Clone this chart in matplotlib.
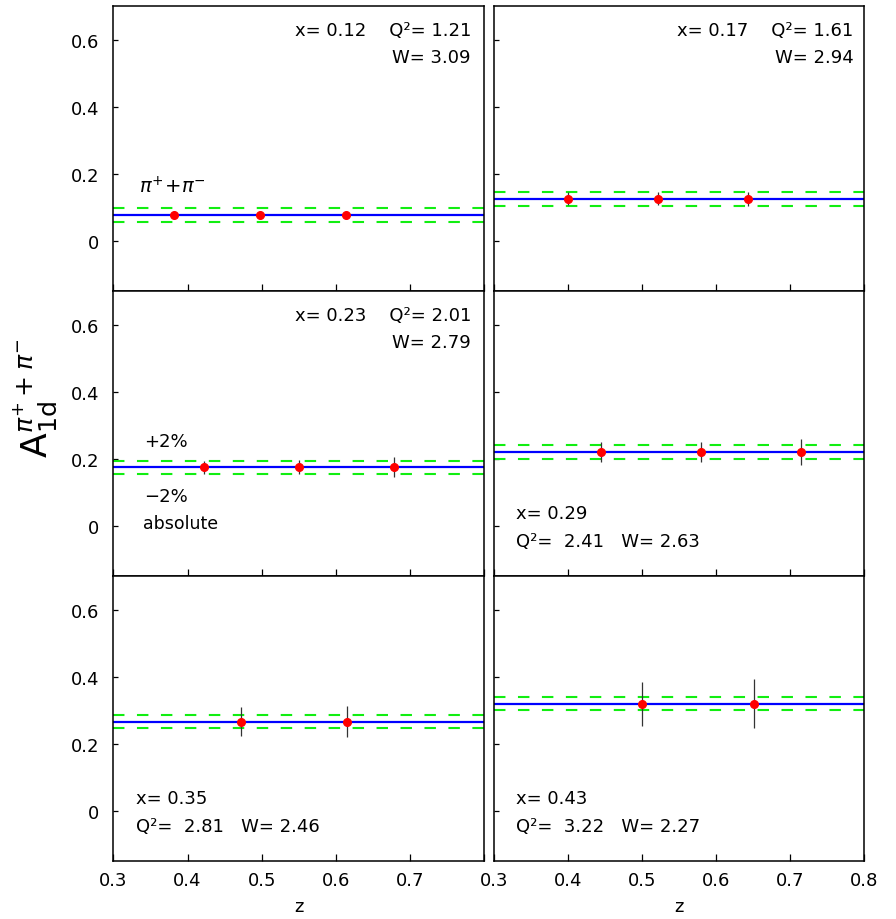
import matplotlib
matplotlib.use("Agg")
import matplotlib.pyplot as plt

plt.rcParams["font.family"] = ["DejaVu Sans"]
plt.rcParams["mathtext.fontset"] = "dejavusans"

# ── data (one entry per panel, reading order) ────────────────────────────────
X_BJ  = ["0.12", "0.17", "0.23", "0.29", "0.35", "0.43"]
Q2    = ["1.21", "1.61", "2.01", "2.41", "2.81", "3.22"]
W     = ["3.09", "2.94", "2.79", "2.63", "2.46", "2.27"]
Z_PTS = [
    [0.382, 0.498, 0.614],
    [0.400, 0.522, 0.643],
    [0.422, 0.550, 0.678],
    [0.445, 0.580, 0.715],
    [0.472, 0.615],
    [0.500, 0.652],
]
A_VAL = [0.077, 0.125, 0.174, 0.220, 0.266, 0.319]
A_ERR = [
    [0.006, 0.006, 0.008],
    [0.019, 0.019, 0.021],
    [0.020, 0.021, 0.030],
    [0.031, 0.031, 0.039],
    [0.043, 0.046],
    [0.065, 0.073],
]
BAND = 0.02   # +-2% absolute
XTICKS = [0.3, 0.4, 0.5, 0.6, 0.7, 0.8]
YTICKS = [0, 0.2, 0.4, 0.6]

# ── layout (figure pixels -> fractions) ──────────────────────────────────────
W_PX, H_PX = 896, 920
COL_X = [113.3, 494.0]
COL_W = [371.0, 370.0]
ROW_TOP = [7.0, 292.0, 577.0]
ROW_H = 285.0
FS = 13

fig = plt.figure(figsize=(W_PX / 100, H_PX / 100), dpi=100)

axes = []
for i in range(6):
    r, c = divmod(i, 2)
    rect = [COL_X[c] / W_PX, 1 - (ROW_TOP[r] + ROW_H) / H_PX,
            COL_W[c] / W_PX, ROW_H / H_PX]
    ax = fig.add_axes(rect)
    axes.append(ax)

    z = Z_PTS[i]
    a = A_VAL[i]
    ax.axhline(a, color="#0000ff", lw=1.6, zorder=2)
    for off in (BAND, -BAND):
        ax.axhline(a + off, color="#11ee11", lw=1.5, dashes=(5.5, 6), zorder=2)
    ax.errorbar(z, [a] * len(z), yerr=A_ERR[i], fmt="o", color="red",
                ms=5.5, mec="red", ecolor="#333333", elinewidth=0.9,
                capsize=0, zorder=4)

    ax.set_xlim(0.3, 0.8)
    ax.set_ylim(-0.15, 0.7)
    ax.set_xticks(XTICKS)
    ax.set_yticks(YTICKS)
    ax.tick_params(axis="x", direction="in", length=5, width=0.9,
                   labelsize=FS, pad=7)
    ax.tick_params(axis="y", direction="in", length=3.5, width=0.9,
                   labelsize=FS, pad=10)
    for sp in ax.spines.values():
        sp.set_linewidth(1.1)

    if c == 0:
        ax.set_yticklabels(["0", "0.2", "0.4", "0.6"])
    else:
        ax.set_yticklabels([])
    if r == 2:
        if c == 0:
            ax.set_xticklabels(["0.3", "0.4", "0.5", "0.6", "0.7", ""])
        else:
            ax.set_xticklabels(["0.3", "0.4", "0.5", "0.6", "0.7", "0.8"])
        ax.set_xlabel("z", fontsize=FS, labelpad=6)
    else:
        ax.set_xticklabels([])

# ── kinematics labels ────────────────────────────────────────────────────────
for i in range(3):
    ax = axes[i]
    xr = 0.964 if i != 1 else 0.972
    ax.text(xr, 0.915, f"x= {X_BJ[i]}    Q²= {Q2[i]}", transform=ax.transAxes,
            ha="right", va="center", fontsize=FS)
    ax.text(xr, 0.822, f"W= {W[i]}", transform=ax.transAxes,
            ha="right", va="center", fontsize=FS)
for i in range(3, 6):
    ax = axes[i]
    ax.text(0.06, 0.220, f"x= {X_BJ[i]}", transform=ax.transAxes,
            ha="left", va="center", fontsize=FS)
    ax.text(0.06, 0.122, f"Q²=  {Q2[i]}   W= {W[i]}", transform=ax.transAxes,
            ha="left", va="center", fontsize=FS)

axes[0].text(0.07, 0.37, r"$\pi^{+}\!+\!\pi^{-}$", transform=axes[0].transAxes,
             ha="left", va="center", fontsize=FS + 1)
axes[2].text(0.083, 0.473, "+2%", transform=axes[2].transAxes,
             ha="left", va="center", fontsize=FS)
axes[2].text(0.083, 0.279, "\u22122%", transform=axes[2].transAxes,
             ha="left", va="center", fontsize=FS)
axes[2].text(0.080, 0.185, "absolute", transform=axes[2].transAxes,
             ha="left", va="center", fontsize=FS - 0.5)

fig.text(0.040, 1 - 398 / H_PX, r"$\mathrm{A}_{\mathrm{1d}}^{\pi^{+}+\pi^{-}}$",
         rotation=90, ha="center", va="center", fontsize=26)

fig.savefig("out.png", dpi=100)
